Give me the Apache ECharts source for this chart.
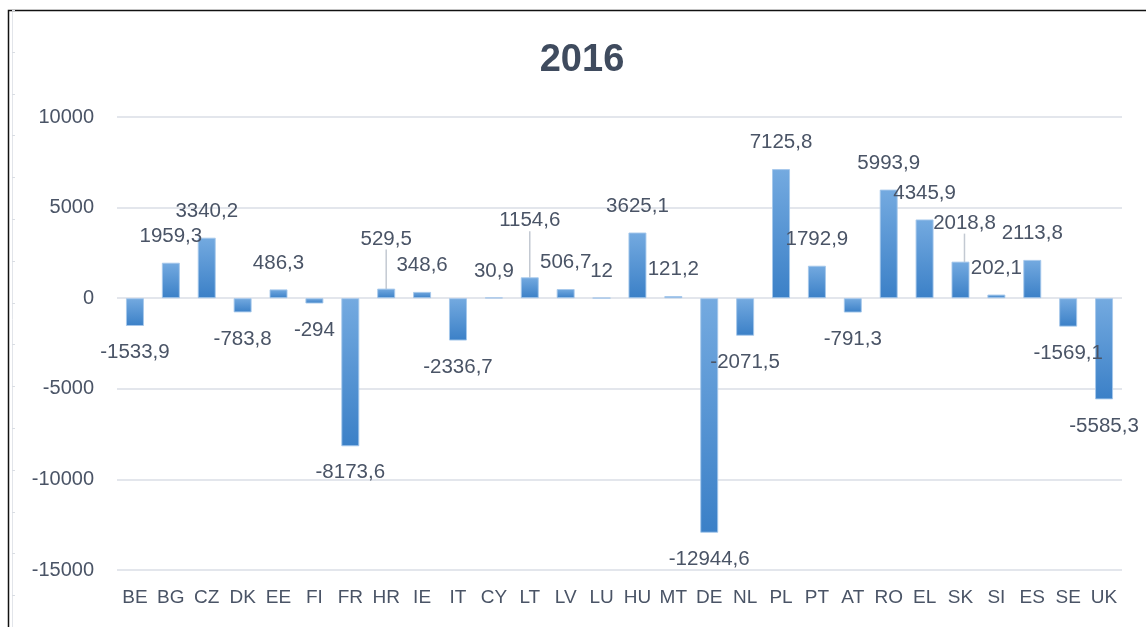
<!DOCTYPE html>
<html>
<head>
<meta charset="utf-8">
<title>2016</title>
<script src="https://cdn.jsdelivr.net/npm/echarts@6/dist/echarts.min.js"></script>
<style>
  html, body { margin: 0; padding: 0; background: #ffffff; }
  #chart { width: 1146px; height: 627px; }
</style>
</head>
<body>
<div id="chart"></div>
<script>
// 数据
const countries = ['BE', 'BG', 'CZ', 'DK', 'EE', 'FI', 'FR', 'HR', 'IE', 'IT', 'CY', 'LT', 'LV', 'LU',
  'HU', 'MT', 'DE', 'NL', 'PL', 'PT', 'AT', 'RO', 'EL', 'SK', 'SI', 'ES', 'SE', 'UK'];
const values = [-1533.9, 1959.3, 3340.2, -783.8, 486.3, -294, -8173.6, 529.5, 348.6, -2336.7, 30.9,
  1154.6, 506.7, 12, 3625.1, 121.2, -12944.6, -2071.5, 7125.8, 1792.9, -791.3, 5993.9, 4345.9,
  2018.8, 202.1, 2113.8, -1569.1, -5585.3];
const yTicks = [-15000, -10000, -5000, 0, 5000, 10000];

// labels Excel moved off the bar (with a leader line)
const movedLabels = { HR: [0, -23], LT: [0, -30], SK: [4, -12] };
const shiftedLabels = { PL: [10, 0] };

const textColor = '#4a5466';
const fontFamily = 'Liberation Sans, Arial, sans-serif';

const chart = echarts.init(document.getElementById('chart'));

const barData = values.map(function (v, i) {
  const item = {
    value: v,
    label: { position: v < 0 ? 'bottom' : 'top' }
  };
  const c = countries[i];
  if (shiftedLabels[c]) item.label.offset = shiftedLabels[c];
  if (movedLabels[c]) item.labelLine = { show: true };
  return item;
});

// faint ruler on the left edge of the frame
const rulerTicks = [];
for (let y = 10; y < 627; y += 41.8) {
  rulerTicks.push({
    type: 'line',
    shape: { x1: 12, y1: Math.round(y) + 0.5, x2: 15, y2: Math.round(y) + 0.5 },
    style: { stroke: '#d9dde3', lineWidth: 1 }
  });
}

chart.setOption({
  animation: false,
  backgroundColor: '#ffffff',
  title: {
    text: '2016',
    left: 577,
    top: 37,
    textAlign: 'center',
    textStyle: { color: '#3f4b5e', fontSize: 38, fontWeight: 'bold', fontFamily: fontFamily }
  },
  grid: { left: 117, right: 24, top: 117, bottom: 57 },
  xAxis: {
    type: 'category',
    data: countries,
    axisLine: { show: false },
    axisTick: { show: false },
    axisLabel: { color: textColor, fontSize: 19, fontFamily: fontFamily, margin: 18, interval: 0 }
  },
  yAxis: {
    type: 'value',
    min: yTicks[0],
    max: yTicks[yTicks.length - 1],
    interval: 5000,
    axisLine: { show: false },
    axisTick: { show: false },
    axisLabel: {
      color: textColor, fontSize: 20, fontFamily: fontFamily, margin: 23,
      formatter: function (v) { return String(v); }
    },
    splitLine: { lineStyle: { color: '#e3e6ec', width: 2 } }
  },
  series: [{
    type: 'bar',
    data: barData,
    barWidth: 18,
    itemStyle: {
      color: new echarts.graphic.LinearGradient(0, 0, 0, 1, [
        { offset: 0, color: '#74aae0' },
        { offset: 1, color: '#3b80c7' }
      ]),
      borderColor: 'rgba(165,200,235,0.9)',
      borderWidth: 1
    },
    label: {
      show: true,
      distance: 16,
      color: textColor,
      fontSize: 20.5,
      fontFamily: fontFamily,
      formatter: function (p) { return String(p.value).replace('.', ','); }
    },
    labelLine: { show: false, lineStyle: { color: '#c3c9d2', width: 1.5 } },
    labelLayout: function (p) {
      const m = movedLabels[countries[p.dataIndex]];
      if (!m) return {};
      return { dx: m[0], dy: m[1] };
    }
  }],
  graphic: [
    {
      type: 'polyline',
      shape: { points: [[8.5, 627], [8.5, 10.5], [1146, 10.5]] },
      style: { stroke: '#111111', lineWidth: 1.5, fill: null }
    },
    {
      type: 'line',
      shape: { x1: 12.5, y1: 12, x2: 12.5, y2: 627 },
      style: { stroke: '#e2e5ea', lineWidth: 1 }
    }
  ].concat(rulerTicks)
});
</script>
</body>
</html>
